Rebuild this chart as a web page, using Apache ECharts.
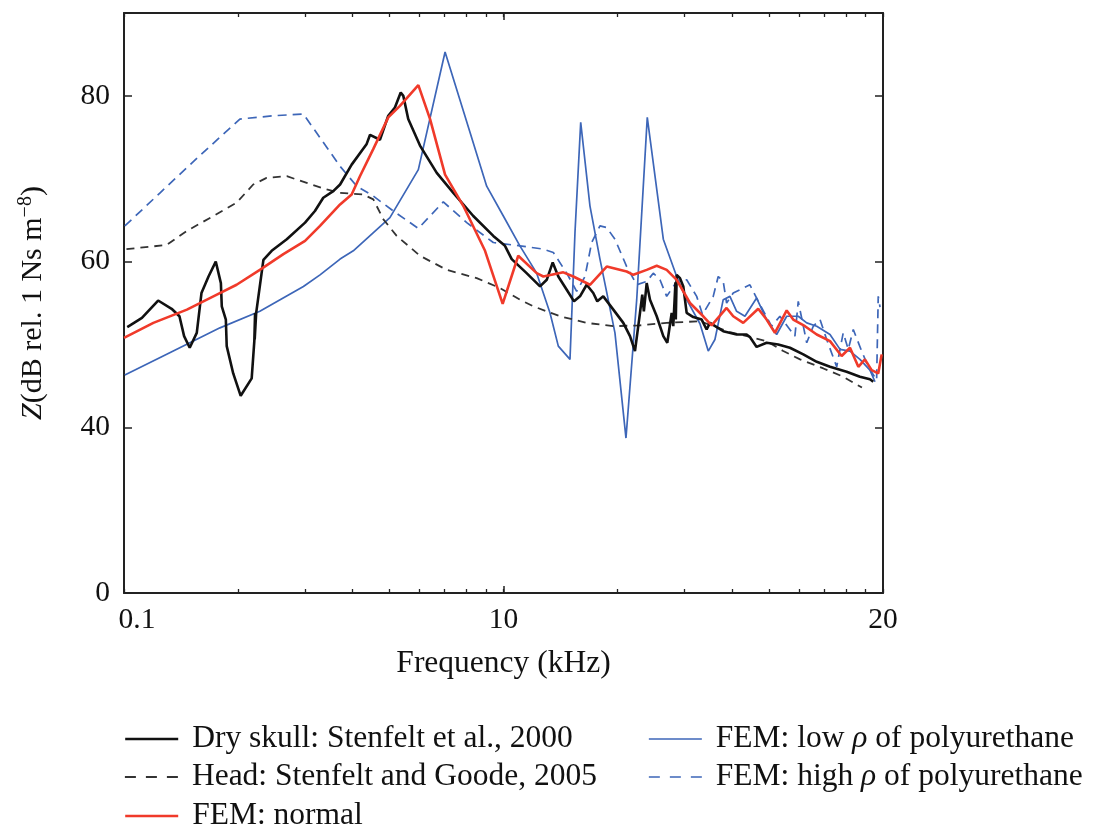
<!DOCTYPE html>
<html><head><meta charset="utf-8">
<script src="https://cdn.jsdelivr.net/npm/echarts@6/dist/echarts.min.js"></script>
<style>html,body{margin:0;padding:0;background:#fff}#c{width:1095px;height:830px}</style>
</head><body><div id="c"></div>
<script>
// ---- data (frequency in kHz on a log axis, Z in dB) ----
const dryFreq = [0.204,0.223,0.246,0.267,0.280,0.288,0.298,0.311,0.320,0.334,0.349,0.360,0.362,0.371,0.373,0.388,0.406,0.434,0.441,0.443,0.442,0.446,0.466,0.490,0.537,0.600,0.637,0.670,0.712,0.742,0.796,0.872,0.890,0.945,0.994,1.035,1.072,1.089,1.122,1.205,1.334,1.475,1.665,1.880,2.018,2.102,2.301,2.496,2.600,2.696,2.789,2.935,3.068,3.181,3.313,3.448,3.533,3.664,3.894,4.137,4.309,4.441,4.578,4.642,4.687,4.768,4.865,5.067,5.274,5.403,5.549,5.603,5.678,5.689,5.720,5.836,5.954,6.077,6.325,6.656,6.860,6.998,7.586,8.229,8.742,8.919,9.290,9.870,10.59,11.37,12.33,13.38,14.50,16.04,17.39,18.48,18.85];
const dryZ    = [52.1,53.2,55.3,54.3,53.4,51.0,49.6,51.4,56.2,58.2,60.0,57.4,54.6,53.0,49.8,46.5,43.8,45.9,50.4,53.8,50.6,53.8,60.2,61.3,62.7,64.7,66.1,67.7,68.5,69.3,71.7,74.2,75.3,74.7,77.6,78.6,80.4,80.0,77.2,74.0,70.7,68.3,65.5,63.1,61.9,60.3,58.6,57.0,57.8,59.9,58.2,56.6,55.2,55.8,57.2,56.2,55.2,55.8,54.2,52.6,51.0,49.2,53.8,56.0,54.0,57.4,55.4,53.4,51.0,50.2,53.8,52.2,57.5,53.0,58.4,58.0,57.0,53.8,53.3,53.0,51.8,52.6,51.6,51.2,51.2,50.9,49.7,50.2,50.0,49.6,48.8,47.9,47.3,46.7,46.1,45.8,45.5];

const headFreq = [0.203,0.259,0.293,0.344,0.396,0.438,0.475,0.537,0.606,0.684,0.742,0.854,0.908,0.965,1.046,1.205,1.417,1.700,1.958,2.209,2.396,2.818,3.313,3.894,4.578,5.383,6.588,7.900,9.870,10.92,12.09,13.93,15.71,17.6];
const headZ    = [61.5,62.0,63.7,65.5,67.1,69.3,70.1,70.3,69.5,68.7,68.3,68.1,67.5,65.1,63.1,60.7,59.0,58.0,56.8,55.4,54.6,53.4,52.6,52.2,52.3,52.6,52.8,51.5,50.4,49.2,48.2,47.1,46.1,44.8];

const normFreq = [0.200,0.239,0.293,0.344,0.396,0.456,0.526,0.600,0.657,0.742,0.796,0.837,0.908,0.994,1.067,1.193,1.281,1.403,1.568,1.788,1.990,2.187,2.446,2.547,2.875,3.055,3.380,3.741,4.223,4.396,4.768,5.067,5.383,5.720,6.200,6.720,7.071,7.743,8.060,8.565,9.380,9.870,10.38,11.15,11.60,12.46,13.38,14.50,15.56,16.37,17.22,17.92,18.67,19.43,19.84];
const normZ    = [50.8,52.6,54.2,55.8,57.2,59.0,60.9,62.5,64.3,66.9,68.1,70.3,73.6,77.4,78.8,81.3,77.2,70.5,66.7,61.3,54.9,60.7,58.6,58.2,58.7,58.2,57.2,59.4,58.8,58.4,59.0,59.5,59.0,57.8,55.0,53.4,52.3,54.4,53.4,52.6,54.3,53.0,51.4,54.1,53.0,52.2,51.2,50.4,48.6,49.6,47.3,48.2,46.9,46.5,48.8];

const lowFreq = [0.201,0.264,0.358,0.456,0.594,0.657,0.742,0.804,1.004,1.193,1.403,1.632,1.806,1.998,2.209,2.446,2.652,2.789,2.994,3.086,3.195,3.380,3.591,3.933,4.205,4.488,4.785,5.274,5.720,6.077,6.588,6.928,7.214,7.586,7.900,8.229,8.654,9.290,9.870,10.49,11.15,11.96,12.59,13.38,14.50,15.41,16.37,17.39,18.48,19.05];
const lowZ    = [46.3,49.0,52.0,54.0,57.0,58.4,60.3,61.3,65.3,71.1,85.3,75.6,69.1,65.5,61.9,58.6,53.8,49.8,48.2,63.5,76.8,66.7,60.3,51.4,38.7,55.4,77.4,62.7,58.2,55.4,52.5,49.2,50.6,55.4,55.8,54.0,53.4,55.6,53.0,51.2,53.4,53.4,52.6,52.2,51.2,49.4,49.2,48.2,46.9,45.5];

const highFreq = [0.201,0.249,0.317,0.404,0.495,0.594,0.670,0.742,0.821,0.908,1.025,1.193,1.388,1.600,1.880,2.209,2.547,2.706,2.935,3.118,3.279,3.415,3.591,3.741,3.933,4.223,4.488,4.768,4.963,5.169,5.383,5.720,6.077,6.457,6.690,7.140,7.359,7.586,7.743,8.060,8.565,8.919,9.380,10.17,10.70,11.72,11.96,12.59,13.10,13.65,14.21,15.10,15.71,16.20,16.70,17.57,18.29,19.24,19.43,19.64];
const highZ    = [64.3,68.3,72.8,77.2,77.6,77.8,74.4,71.5,69.1,67.9,66.1,64.0,67.2,64.7,62.3,61.9,61.5,61.1,58.6,56.4,58.2,62.3,64.3,64.1,62.7,59.4,57.2,57.6,58.6,57.8,55.8,57.6,57.8,55.8,53.6,55.8,58.2,57.6,55.0,56.2,56.8,57.2,55.2,52.2,53.4,51.0,55.2,50.2,52.2,53.0,50.6,47.3,51.4,49.4,51.8,49.2,47.3,45.7,55.8,54.5];

const seriesNames = ['Dry skull: Stenfelt et al., 2000','Head: Stenfelt and Goode, 2005','FEM: normal','FEM: low ρ of polyurethane','FEM: high ρ of polyurethane'];

const xTickValues = [0.2,0.4,0.6,0.8,1,1.2,1.4,1.6,1.8,2,4,6,8,10,12,14,16,18,20];
const xMajorValues = [0.2,2,20];
const xTickLabels = ['0.1','10','20'];
const yTickValues = [20,40,60,80];
const yTickLabels = ['0','40','60','80'];

// ---- chart ----
const zip = (a,b) => a.map((v,i)=>[v,b[i]]);
const FONT = 'Liberation Serif';
const AX = '#222';
const chart = echarts.init(document.getElementById('c'));

function xLabel(v){
  const i = xMajorValues.findIndex(m => Math.abs(m - v) / m < 1e-6);
  if (i < 0) return '';
  return i === 0 ? '{first|' + xTickLabels[i] + '}' : xTickLabels[i];
}
function yLabel(v){
  const i = yTickValues.indexOf(v);
  return i < 0 ? '' : yTickLabels[i];
}
function legendFmt(n){
  return n.replace('ρ','{it|ρ}');
}

const baseX = {type:'log', logBase:10, min:0.2, max:20, splitLine:{show:false}, minorTick:{show:false}};
const common = {type:'line', showSymbol:false, symbol:'none', smooth:false, animation:false, z:3};

const LFS = 31.5;
function legendRow(name, left, centerY, lw, dash){
  const ls = {width:lw};
  if (dash) ls.type = dash;
  return {orient:'horizontal', left:left, top:centerY - 17, padding:0, itemWidth:53, itemHeight:14,
    itemStyle:{opacity:0}, lineStyle:ls, data:[name], formatter:legendFmt, selectedMode:false,
    textStyle:{fontFamily:FONT, fontSize:LFS, lineHeight:34, color:'#111', padding:[0,0,0,9],
      rich:{it:{fontFamily:FONT, fontSize:LFS, lineHeight:34, fontStyle:'italic', color:'#111'}}}};
}

chart.setOption({
  animation:false,
  backgroundColor:'#fff',
  grid:{left:124, top:13, width:759, height:580, containLabel:false},
  xAxis:[
    Object.assign({}, baseX, {position:'bottom',
      axisLine:{show:true, lineStyle:{color:AX, width:2}},
      axisTick:{show:true, inside:true, length:4, customValues:xTickValues, lineStyle:{color:AX, width:1.3}},
      axisLabel:{show:true, customValues:xMajorValues, formatter:xLabel, margin:12, color:'#111', fontFamily:FONT, fontSize:29.5,
        rich:{first:{fontFamily:FONT, fontSize:29.5, color:'#111', padding:[0,0,0,26]}}},
      name:'Frequency (kHz)', nameLocation:'middle', nameGap:55,
      nameTextStyle:{fontFamily:FONT, fontSize:31.5, color:'#111'}}),
    Object.assign({}, baseX, {position:'bottom',
      axisLine:{show:false},
      axisTick:{show:true, inside:true, length:7, customValues:xMajorValues, lineStyle:{color:AX, width:1.5}},
      axisLabel:{show:false}}),
    Object.assign({}, baseX, {position:'top',
      axisLine:{show:true, lineStyle:{color:AX, width:2}},
      axisTick:{show:true, inside:true, length:4, customValues:xTickValues, lineStyle:{color:AX, width:1.3}},
      axisLabel:{show:false}}),
    Object.assign({}, baseX, {position:'top',
      axisLine:{show:false},
      axisTick:{show:true, inside:true, length:7, customValues:xMajorValues, lineStyle:{color:AX, width:1.5}},
      axisLabel:{show:false}})
  ],
  yAxis:[
    {type:'value', position:'left', min:20, max:90, interval:20, splitLine:{show:false},
      axisLine:{show:true, lineStyle:{color:AX, width:2}},
      axisTick:{show:true, inside:true, length:8, lineStyle:{color:AX, width:1.5}},
      axisLabel:{formatter:yLabel, margin:14, color:'#111', fontFamily:FONT, fontSize:29.5},
      name:'{i|Z}(dB rel. 1 Ns m{sup|−8})', nameLocation:'middle', nameGap:74, nameRotate:90,
      nameTextStyle:{fontFamily:FONT, fontSize:30, color:'#111',
        rich:{i:{fontFamily:FONT, fontSize:30, fontStyle:'italic', color:'#111'},
              sup:{fontFamily:FONT, fontSize:20, color:'#111', verticalAlign:'top', padding:[0,0,14,0]}}}},
    {type:'value', position:'right', min:20, max:90, interval:20, splitLine:{show:false},
      axisLine:{show:true, lineStyle:{color:AX, width:2}},
      axisTick:{show:true, inside:true, length:8, lineStyle:{color:AX, width:1.5}},
      axisLabel:{show:false}}
  ],
  legend:[
    legendRow(seriesNames[0], 124, 739, 2.4),
    legendRow(seriesNames[1], 124, 777, 1.8, [11,10]),
    legendRow(seriesNames[2], 124, 816, 2.4),
    legendRow(seriesNames[3], 648, 739, 1.7),
    legendRow(seriesNames[4], 648, 777, 1.7, [11,10])
  ],
  series:[
    Object.assign({}, common, {name:seriesNames[4], data:zip(highFreq, highZ), color:'#3d66b8',
      lineStyle:{color:'#3d66b8', width:1.7, type:[9,6]}}),
    Object.assign({}, common, {name:seriesNames[3], data:zip(lowFreq, lowZ), color:'#3d66b8',
      lineStyle:{color:'#3d66b8', width:1.7}}),
    Object.assign({}, common, {name:seriesNames[1], data:zip(headFreq, headZ), color:'#333',
      lineStyle:{color:'#333', width:1.8, type:[8,6]}}),
    Object.assign({}, common, {name:seriesNames[0], data:zip(dryFreq, dryZ), color:'#111',
      lineStyle:{color:'#111', width:2.6}}),
    Object.assign({}, common, {name:seriesNames[2], data:zip(normFreq, normZ), color:'#f03a2a',
      lineStyle:{color:'#f03a2a', width:2.6}})
  ]
});
</script></body></html>
